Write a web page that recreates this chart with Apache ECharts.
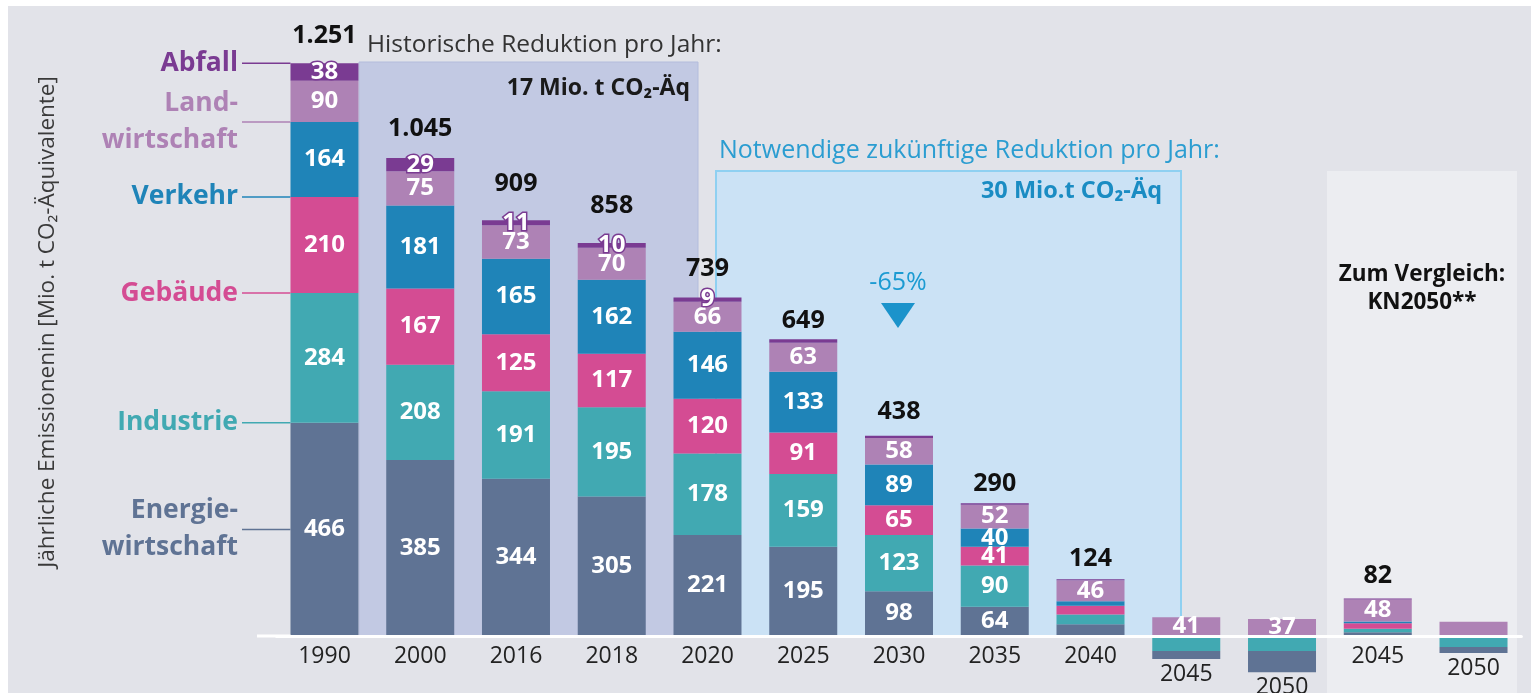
<!DOCTYPE html>
<html>
<head>
<meta charset="utf-8">
<script src="https://cdn.jsdelivr.net/npm/echarts@6/dist/echarts.min.js"></script>
<style>
html,body{margin:0;padding:0;background:#fff;}
#main{width:1531px;height:693px;}
</style>
</head>
<body>
<div id="main"></div>
<script>
// Jahre (zwei Szenario-Gruppen: Pfad und KN2050-Vergleich)
var jahre = ['1990','2000','2016','2018','2020','2025','2030','2035','2040','2045','2050','2045','2050'];
var energie = [466,385,344,305,221,195,98,64,26,0,0,8,0];
var industrie = [284,208,191,195,178,159,123,90,21,0,0,8,0];
var gebaeude = [210,167,125,117,120,91,65,41,19,0,0,12,0];
var verkehr = [164,181,165,162,146,133,89,40,10,0,0,4,0];
var landwirtschaft = [90,75,73,70,66,63,58,52,46,41,37,48,31];
var abfall = [38,29,11,10,9,8,5,3,2,0,0,2,0];
// negative Emissionen (Senken)
var industrieSenke = [0,0,0,0,0,0,0,0,0,-33,-33,0,-24];
var energieSenke = [0,0,0,0,0,0,0,0,0,-17,-46,0,-13];
var gesamt = [1251,1045,909,858,739,649,438,290,124,null,null,82,null];

var FONT = '"Open Sans", sans-serif';
var yMax = 1300;
var pxPerUnit = 0.4574;
var gridTop = 41.4, gridHeight = yMax * pxPerUnit;
var barW = 68;

var farben = {
    energie: '#5f7394',
    industrie: '#41a9b2',
    gebaeude: '#d44c93',
    verkehr: '#1f84b8',
    landwirtschaft: '#ae82b5',
    abfall: '#7a3b92'
};

function sektor(name, werte, farbe, bisIndex, labelExtra) {
    var label = {
        show: true, position: 'inside', color: '#fff',
        fontFamily: FONT, fontWeight: 'bold', fontSize: 24
    };
    for (var k in (labelExtra || {})) label[k] = labelExtra[k];
    return {
        name: name, type: 'bar', stack: 'summe', barWidth: barW, clip: false,
        itemStyle: {color: farbe},
        label: label,
        data: werte.map(function (v, i) {
            return {value: v, label: {show: i < bisIndex && v !== 0}};
        })
    };
}

// Abstand der Summenbeschriftung über dem Balken
var abstand = [15,17,24,25,17,6,11,7,8,8,8,10,8];

var rich = {};
jahre.forEach(function (j, i) {
    var tief = -(industrieSenke[i] + energieSenke[i]) * pxPerUnit;
    rich['r' + i] = {
        fontSize: 23, fontFamily: FONT, color: '#222',
        padding: [tief > 0 ? tief - 5 : 0, 0, 0, 0]
    };
});

var option = {
    backgroundColor: '#e2e3e9',
    animation: false,
    grid: {left: 276.6, right: 9.6, top: gridTop, height: gridHeight, outerBoundsMode: 'none', containLabel: false},
    xAxis: {
        type: 'category',
        data: jahre,
        z: 10,
        axisLine: {show: true, lineStyle: {color: '#fff', width: 3}},
        axisTick: {show: false},
        axisLabel: {
            margin: 9,
            interval: 0,
            formatter: function (value, index) {
                return '{r' + index + '|' + value + '}';
            },
            rich: rich
        }
    },
    yAxis: {type: 'value', min: 0, max: yMax, show: false},
    series: [
        sektor('Industrie (Senke)', industrieSenke, farben.industrie, 0),
        sektor('Energiewirtschaft (Senke)', energieSenke, farben.energie, 0),
        sektor('Energiewirtschaft', energie, farben.energie, 8),
        sektor('Industrie', industrie, farben.industrie, 8),
        sektor('Gebäude', gebaeude, farben.gebaeude, 8),
        sektor('Verkehr', verkehr, farben.verkehr, 8),
        sektor('Landwirtschaft', landwirtschaft, farben.landwirtschaft, 12),
        sektor('Abfall', abfall, farben.abfall, 5, {textBorderColor: '#7a3b92', textBorderWidth: 3}),
        {
            name: 'Gesamt', type: 'bar', barWidth: barW, barGap: '-100%', silent: true,
            itemStyle: {color: 'rgba(0,0,0,0)'},
            label: {
                show: true, position: 'top', color: '#111',
                fontFamily: FONT, fontWeight: 'bold', fontSize: 25,
                formatter: function (p) {
                    return String(p.value).replace(/\B(?=(\d{3})+(?!\d))/g, '.');
                }
            },
            data: gesamt.map(function (v, i) {
                return v == null ? '-' : {value: v, label: {distance: abstand[i]}};
            })
        }
    ]
};

var chart = echarts.init(document.getElementById('main'));
chart.setOption(option);

// Hilfsgrafiken (Kästen, Beschriftungen)
function px(i, v) { return chart.convertToPixel({gridIndex: 0}, [i, v]); }
var nullY = px(0, 0)[1];
var x2030 = px(6, 0)[0];
var bar1990Left = px(0, 0)[0] - barW / 2;

var elemente = [
    {type: 'rect', z: -1, shape: {x: 0, y: 0, width: 1531, height: 6}, style: {fill: '#fff'}},
    {type: 'rect', z: -1, shape: {x: 0, y: 0, width: 8, height: 693}, style: {fill: '#fff'}},
    // historischer Kasten
    {type: 'rect', z: 0, shape: {x: 359, y: 62, width: 339, height: nullY - 62},
        style: {fill: '#c2c9e3', stroke: '#b3bcdc', lineWidth: 1}},
    {type: 'text', z: 1, x: 367, y: 45, style: {text: 'Historische Reduktion pro Jahr:', fill: '#333',
        font: '24.5px ' + FONT, textAlign: 'left', textVerticalAlign: 'middle'}},
    {type: 'text', z: 1, x: 690, y: 88, style: {text: '17 Mio. t CO₂-Äq', fill: '#1a1a1a',
        font: 'bold 23px ' + FONT, textAlign: 'right', textVerticalAlign: 'middle'}},
    // zukünftiger Kasten
    {type: 'rect', z: 0, shape: {x: 716, y: 171, width: 465, height: nullY - 171},
        style: {fill: '#cbe2f5', stroke: '#8fd0f1', lineWidth: 2}},
    {type: 'text', z: 1, x: 719, y: 151, style: {text: 'Notwendige zukünftige Reduktion pro Jahr:', fill: '#2b9dd1',
        font: '25px ' + FONT, textAlign: 'left', textVerticalAlign: 'middle'}},
    {type: 'text', z: 1, x: 1162, y: 191, style: {text: '30 Mio.t CO₂-Äq', fill: '#1a8cc3',
        font: 'bold 23.5px ' + FONT, textAlign: 'right', textVerticalAlign: 'middle'}},
    // Vergleichskasten KN2050
    {type: 'rect', z: 0, shape: {x: 1327, y: 171, width: 190, height: 522},
        style: {fill: '#ecedf1'}},
    {type: 'text', z: 1, x: 1422, y: 289, style: {text: 'Zum Vergleich:\nKN2050**', fill: '#111',
        font: 'bold 22.5px ' + FONT, lineHeight: 28, textAlign: 'center', textVerticalAlign: 'middle'}},
    // -65 %
    {type: 'text', z: 1, x: x2030 - 1, y: 283, style: {text: '-65%', fill: '#1c9bd2',
        font: '25px ' + FONT, textAlign: 'center', textVerticalAlign: 'middle'}},
    {type: 'polygon', z: 1, shape: {points: [[x2030 - 18, 303], [x2030 + 16, 303], [x2030 - 1, 328]]},
        style: {fill: '#1b93cb'}},
    // Verlängerung der Nulllinie
    {type: 'line', z: 100, shape: {x1: 257, y1: nullY, x2: bar1990Left, y2: nullY},
        style: {stroke: '#fff', lineWidth: 3}},
    // Achsentitel
    {type: 'text', z: 1, x: 48, y: 322, rotation: Math.PI / 2, style: {
        text: 'Jährliche Emissionenin [Mio. t CO₂-Äquivalente]', fill: '#3a3a3a',
        font: '22.5px ' + FONT, textAlign: 'center', textVerticalAlign: 'middle'}}
];

// Sektor-Beschriftungen links, an den Werten von 1990 ausgerichtet
var s = [energie[0], industrie[0], gebaeude[0], verkehr[0], landwirtschaft[0], abfall[0]];
var sektorNamen = [
    {text: 'Abfall', farbe: farben.abfall, wert: s[0] + s[1] + s[2] + s[3] + s[4] + s[5]},
    {text: 'Land-\nwirtschaft', farbe: farben.landwirtschaft, wert: s[0] + s[1] + s[2] + s[3]},
    {text: 'Verkehr', farbe: farben.verkehr, wert: s[0] + s[1] + s[2]},
    {text: 'Gebäude', farbe: farben.gebaeude, wert: s[0] + s[1]},
    {text: 'Industrie', farbe: farben.industrie, wert: s[0]},
    {text: 'Energie-\nwirtschaft', farbe: farben.energie, wert: s[0] / 2}
];
sektorNamen.forEach(function (n) {
    var y = px(0, n.wert)[1];
    elemente.push({type: 'text', z: 1, x: 238, y: y, style: {text: n.text, fill: n.farbe,
        font: 'bold 26.5px ' + FONT, lineHeight: 37, textAlign: 'right', textVerticalAlign: 'middle'}});
    elemente.push({type: 'line', z: 1, shape: {x1: 242, y1: y, x2: bar1990Left, y2: y},
        style: {stroke: n.farbe, lineWidth: 1.5}});
});

chart.setOption({graphic: {elements: elemente}});
</script>
</body>
</html>
